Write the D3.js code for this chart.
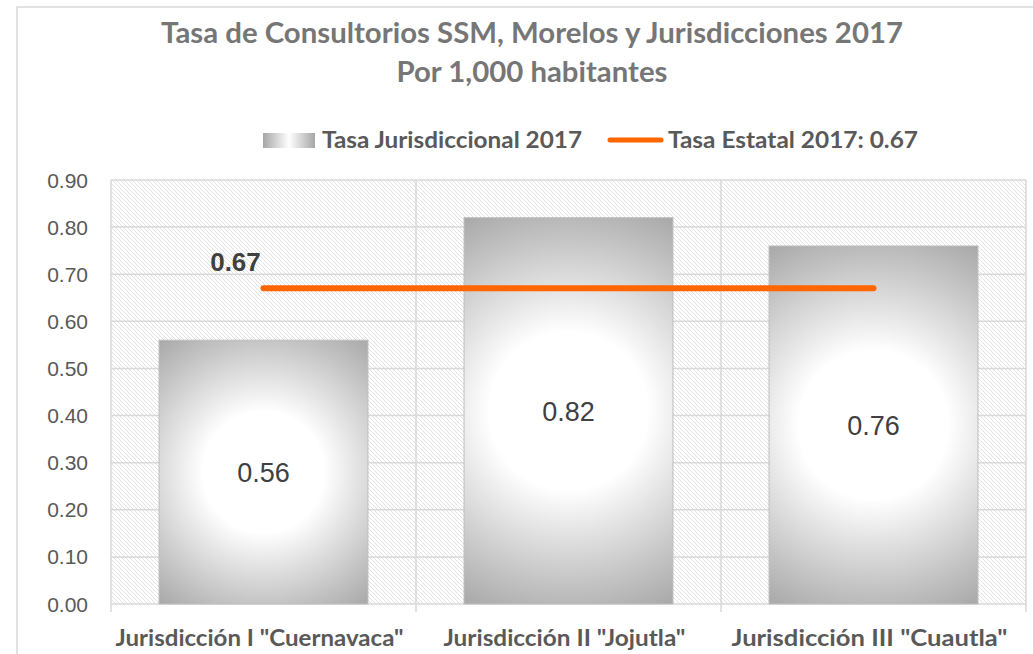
<!DOCTYPE html>
<html>
    <head>
        <meta charset="utf-8">
        <script src="https://d3js.org/d3.v7.min.js"></script>
        <style>
            body { margin: 0; background: #fff; }
        </style>
    </head>
    <body>
        <svg height="654" width="1033" id="chart"></svg>
        <script>
            // data
            const categories = ['Jurisdicción I "Cuernavaca"', 'Jurisdicción II "Jojutla"', 'Jurisdicción III "Cuautla"'];
            const tasaJurisdiccional = [0.56, 0.82, 0.76];
            const tasaEstatal = [0.67, 0.67, 0.67];
            const yTicks = [0, 0.1, 0.2, 0.3, 0.4, 0.5, 0.6, 0.7, 0.8, 0.9];
            const titleLines = ["Tasa de Consultorios SSM, Morelos y Jurisdicciones 2017", "Por 1,000 habitantes"];
            const legendLabels = ["Tasa Jurisdiccional 2017", "Tasa Estatal 2017: 0.67"];

            let svg = d3.select("#chart");
            const grid = "#d9d9d9";
            const narrow = "Lato, 'Open Sans', sans-serif";
            const arial = "'Liberation Sans', Arial, sans-serif";

            let x = d3.scaleBand().domain(categories).range([111, 1026]).padding(0);
            let y = d3.scaleLinear().domain([0, 0.9]).range([604, 180]);
            let barW = x.bandwidth() * 0.685;

            let defs = svg.append("defs");
            let hatch = defs.append("pattern")
                .attr("id", "hatch")
                .attr("patternUnits", "userSpaceOnUse")
                .attr("width", 4).attr("height", 4);
            hatch.append("path")
                .attr("d", "M-1,-1L5,5M-1,3L1,5M3,-1L5,1")
                .style("stroke", "#e2e2e2")
                .style("stroke-width", 1);

            // legend swatch gradient
            let lg = defs.append("linearGradient").attr("id", "legendGrad");
            lg.append("stop").attr("offset", "0%").attr("stop-color", "#a6a6a6");
            lg.append("stop").attr("offset", "50%").attr("stop-color", "#ffffff");
            lg.append("stop").attr("offset", "100%").attr("stop-color", "#a6a6a6");

            // outer chart border
            svg.append("rect")
                .attr("x", 17).attr("y", 7)
                .attr("width", 1040).attr("height", 680)
                .style("fill", "#fff")
                .style("stroke", grid)
                .style("stroke-width", 1.5);

            // plot area hatch
            svg.append("rect")
                .attr("x", x.range()[0]).attr("y", y(0.9))
                .attr("width", x.range()[1] - x.range()[0])
                .attr("height", y(0) - y(0.9))
                .style("fill", "url(#hatch)");

            // horizontal gridlines
            svg.append("g").selectAll("line")
                .data(yTicks)
                .join("line")
                .attr("x1", x.range()[0]).attr("x2", x.range()[1])
                .attr("y1", d => y(d)).attr("y2", d => y(d))
                .style("stroke", grid)
                .style("stroke-width", 1.5);

            // vertical gridlines / category ticks
            let bounds = categories.map(c => x(c)).concat([x.range()[1]]);
            svg.append("g").selectAll("line")
                .data(bounds)
                .join("line")
                .attr("x1", d => d).attr("x2", d => d)
                .attr("y1", y(0.9)).attr("y2", y(0) + 8)
                .style("stroke", grid)
                .style("stroke-width", 1.5);

            // y tick labels
            svg.append("g").selectAll("text")
                .data(yTicks)
                .join("text")
                .attr("x", 88)
                .attr("y", d => y(d))
                .attr("dy", "0.36em")
                .attr("text-anchor", "end")
                .style("font-family", arial)
                .style("font-size", "21px")
                .style("fill", "#595959")
                .text(d => d.toFixed(2));

            // bars with a radial gradient each
            tasaJurisdiccional.forEach(function(v, i){
                let bx = x(categories[i]) + (x.bandwidth() - barW) / 2;
                let top = y(v), bottom = y(0);
                let cx = bx + barW / 2, cy = (top + bottom) / 2;
                let r = Math.sqrt((barW / 2) ** 2 + ((bottom - top) / 2) ** 2);
                let rg = defs.append("radialGradient")
                    .attr("id", "barGrad" + i)
                    .attr("gradientUnits", "userSpaceOnUse")
                    .attr("cx", cx).attr("cy", cy).attr("r", r);
                rg.append("stop").attr("offset", "0").attr("stop-color", "#ffffff");
                rg.append("stop").attr("offset", "0.36").attr("stop-color", "#ffffff");
                rg.append("stop").attr("offset", "0.55").attr("stop-color", "#e4e4e4");
                rg.append("stop").attr("offset", "0.8").attr("stop-color", "#c2c2c2");
                rg.append("stop").attr("offset", "1").attr("stop-color", "#a8a8a8");
            });

            svg.append("g").selectAll("rect")
                .data(tasaJurisdiccional)
                .join("rect")
                .attr("x", (d, i) => x(categories[i]) + (x.bandwidth() - barW) / 2)
                .attr("y", d => y(d))
                .attr("width", barW)
                .attr("height", d => y(0) - y(d))
                .style("fill", (d, i) => "url(#barGrad" + i + ")")
                .style("stroke", "#bfbfbf")
                .style("stroke-width", 1);

            // bar value labels
            svg.append("g").selectAll("text")
                .data(tasaJurisdiccional)
                .join("text")
                .attr("x", (d, i) => x(categories[i]) + x.bandwidth() / 2)
                .attr("y", d => (y(d) + y(0)) / 2)
                .attr("dy", "0.36em")
                .attr("text-anchor", "middle")
                .style("font-family", arial)
                .style("font-size", "27px")
                .style("fill", "#404040")
                .text(d => d.toFixed(2));

            // state rate line
            let line = d3.line()
                .x((d, i) => x(categories[i]) + x.bandwidth() / 2)
                .y(d => y(d));
            svg.append("path")
                .datum(tasaEstatal)
                .attr("d", line)
                .style("fill", "none")
                .style("stroke", "#ff6600")
                .style("stroke-width", 6)
                .style("stroke-linecap", "round");

            svg.append("text")
                .attr("x", x(categories[0]) + x.bandwidth() / 2 - 28)
                .attr("y", y(tasaEstatal[0]) - 17)
                .attr("text-anchor", "middle")
                .style("font-family", arial)
                .style("font-weight", "bold")
                .style("font-size", "26px")
                .style("fill", "#404040")
                .text(tasaEstatal[0].toFixed(2));

            // category labels
            let catWidths = [288, 242, 276];
            svg.append("g").selectAll("text")
                .data(categories)
                .join("text")
                .attr("x", d => x(d) + x.bandwidth() / 2 - 4)
                .attr("y", 646)
                .attr("text-anchor", "middle")
                .attr("textLength", (d, i) => catWidths[i])
                .attr("lengthAdjust", "spacingAndGlyphs")
                .style("font-family", narrow)
                .style("font-weight", "bold")
                .style("font-size", "22px")
                .style("fill", "#595959")
                .text(d => d);

            // title
            let titleWidths = [742, 271];
            svg.append("g").selectAll("text")
                .data(titleLines)
                .join("text")
                .attr("x", 532)
                .attr("y", (d, i) => 43 + i * 39)
                .attr("text-anchor", "middle")
                .attr("textLength", (d, i) => titleWidths[i])
                .attr("lengthAdjust", "spacingAndGlyphs")
                .style("font-family", narrow)
                .style("font-weight", "bold")
                .style("font-size", "28px")
                .style("fill", "#767676")
                .text(d => d);

            // legend
            let legend = svg.append("g");
            legend.append("rect")
                .attr("x", 263).attr("y", 133)
                .attr("width", 52).attr("height", 15)
                .style("fill", "url(#legendGrad)");
            legend.append("line")
                .attr("x1", 610).attr("x2", 661)
                .attr("y1", 140).attr("y2", 140)
                .style("stroke", "#ff6600")
                .style("stroke-width", 5)
                .style("stroke-linecap", "round");
            let legendX = [322, 668], legendW = [260, 250];
            legend.selectAll("text")
                .data(legendLabels)
                .join("text")
                .attr("x", (d, i) => legendX[i])
                .attr("y", 148)
                .attr("textLength", (d, i) => legendW[i])
                .attr("lengthAdjust", "spacingAndGlyphs")
                .style("font-family", narrow)
                .style("font-weight", "bold")
                .style("font-size", "22px")
                .style("fill", "#595959")
                .text(d => d);
        </script>
    </body>
</html>
